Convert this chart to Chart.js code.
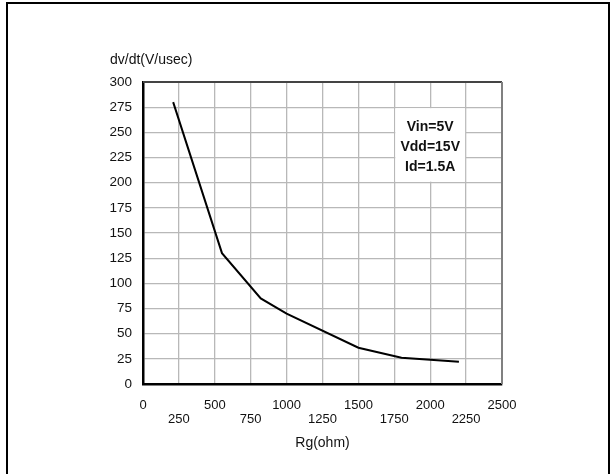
<!DOCTYPE html>
<html>
<head>
<meta charset="utf-8">
<script src="https://cdn.jsdelivr.net/npm/chart.js@4/dist/chart.umd.min.js"></script>
<style>
    html, body { margin: 0; padding: 0; background: #fff; }
    #wrap { width: 615px; height: 474px; position: relative; }
</style>
</head>
<body>
<div id="wrap"><canvas id="dvdtChart" width="615" height="474"></canvas></div>
<script>
// Gate resistance vs dv/dt
const rgValues = [210, 550, 820, 1000, 1500, 1800, 2200];
const dvdtValues = [280, 130, 85, 70, 36, 26, 22];

// x tick labels are staggered on two rows
const xTicksTop = [0, 500, 1000, 1500, 2000, 2500];
const xTicksBottom = [250, 750, 1250, 1750, 2250];

const yAxisTitle = 'dv/dt(V/usec)';
const xAxisTitle = 'Rg(ohm)';

// test conditions box (x range, y range in data units) and its lines
const noteLines = ['Vin=5V', 'Vdd=15V', 'Id=1.5A'];
const noteLineY = [255, 235.5, 215.5];
const noteBoxX = [1750, 2250];
const noteBoxY = [200, 275];

const FONT = "'Liberation Sans', Arial, Helvetica, sans-serif";

const points = rgValues.map((x, i) => ({ x: x, y: dvdtValues[i] }));

const ctx = document.getElementById('dvdtChart').getContext('2d');

const config = {
    type: 'scatter',
    data: {
        datasets: [{
            data: points,
            showLine: true,
            borderColor: '#000',
            borderWidth: 2,
            pointRadius: 0,
            tension: 0
        }]
    },
    options: {
        responsive: false,
        animation: false,
        layout: {
            padding: { top: 82, right: 113, bottom: 0, left: 0 }
        },
        plugins: {
            legend: { display: false },
            tooltip: { enabled: false }
        },
        scales: {
            x: {
                type: 'linear',
                min: 0,
                max: 2500,
                afterFit: (scale) => { scale.height = 90; },
                ticks: {
                    stepSize: 250,
                    autoSkip: false,
                    maxRotation: 0,
                    padding: 14,
                    color: '#111',
                    font: { family: FONT, size: 13, lineHeight: 1.08 },
                    callback: function (value) {
                        if (xTicksTop.includes(value)) return [String(value), ''];
                        if (xTicksBottom.includes(value)) return ['', String(value)];
                        return '';
                    }
                },
                grid: {
                    color: '#b8b8b8',
                    lineWidth: 1.3,
                    drawTicks: false
                },
                border: { color: '#000', width: 2.5 },
                title: {
                    display: true,
                    text: xAxisTitle,
                    color: '#111',
                    font: { family: FONT, size: 14 },
                    padding: { top: 0, bottom: 22 }
                }
            },
            y: {
                min: 0,
                max: 300,
                afterFit: (scale) => { scale.width = 143; },
                ticks: {
                    stepSize: 25,
                    padding: 11,
                    color: '#111',
                    font: { family: FONT, size: 13.5 }
                },
                grid: {
                    color: '#b8b8b8',
                    lineWidth: 1.3,
                    drawTicks: false
                },
                border: { color: '#000', width: 2.5 }
            }
        }
    },
    plugins: [
        {
            id: 'frameAndNotes',
            afterDatasetsDraw: (chart) => {
                const c = chart.ctx;
                const xs = chart.scales.x;
                const ys = chart.scales.y;
                const area = chart.chartArea;

                // top and right edges of the plot box
                c.save();
                c.lineWidth = 2;
                c.strokeStyle = '#444';
                c.beginPath();
                c.moveTo(area.left, area.top);
                c.lineTo(area.right, area.top);
                c.stroke();
                c.strokeStyle = '#808080';
                c.beginPath();
                c.moveTo(area.right, area.top);
                c.lineTo(area.right, area.bottom);
                c.stroke();

                // white box with test conditions
                const bx0 = xs.getPixelForValue(noteBoxX[0]) + 1;
                const bx1 = xs.getPixelForValue(noteBoxX[1]) - 1;
                const by0 = ys.getPixelForValue(noteBoxY[1]) + 1;
                const by1 = ys.getPixelForValue(noteBoxY[0]) - 1;
                c.fillStyle = '#fff';
                c.fillRect(bx0, by0, bx1 - bx0, by1 - by0);

                c.fillStyle = '#111';
                c.font = 'bold 14px ' + FONT;
                c.textAlign = 'center';
                c.textBaseline = 'middle';
                const cx = (bx0 + bx1) / 2;
                noteLines.forEach((line, i) => {
                    c.fillText(line, cx, ys.getPixelForValue(noteLineY[i]));
                });

                // y axis title sits above the plot, horizontal
                c.textAlign = 'left';
                c.font = '14px ' + FONT;
                c.fillText(yAxisTitle, 110, 60);

                // outer page frame
                c.strokeStyle = '#000';
                c.lineWidth = 2;
                c.beginPath();
                c.moveTo(7, 474);
                c.lineTo(7, 3);
                c.lineTo(609, 3);
                c.lineTo(609, 474);
                c.stroke();
                c.restore();
            }
        }
    ]
};

const chart = new Chart(ctx, config);
</script>
</body>
</html>
